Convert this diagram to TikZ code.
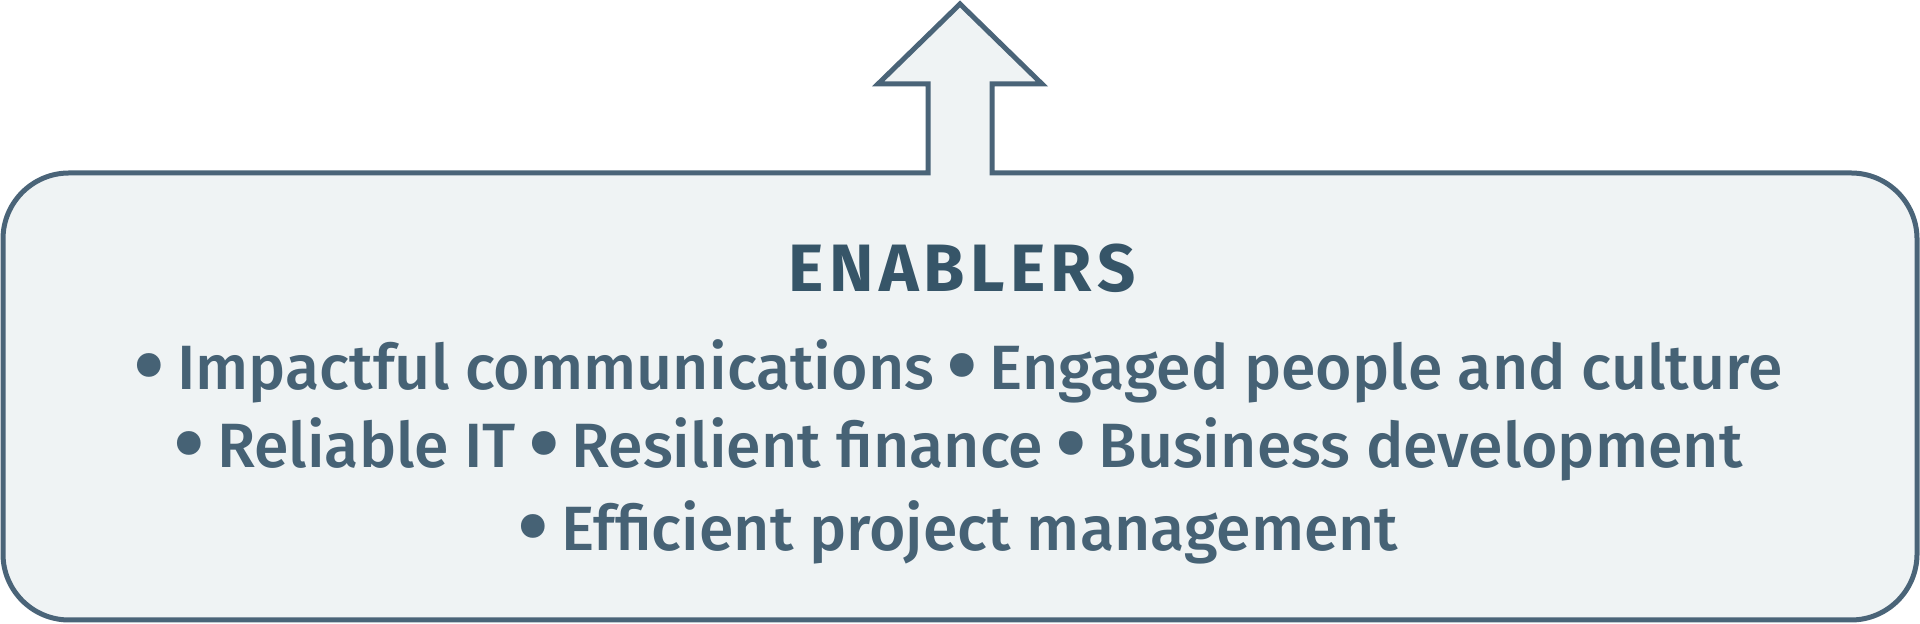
\documentclass[tikz,border=0pt]{standalone}
\usepackage{fontspec}
\setmainfont{Fira Sans}
\newfontfamily\bodyfont{Fira Sans Medium}
\newfontfamily\titlefont[LetterSpace=8]{Fira Sans Bold}
\definecolor{edgeblue}{HTML}{4A6478}
\definecolor{paleblue}{HTML}{EFF3F4}
\definecolor{titleblue}{HTML}{365568}
\definecolor{textblue}{HTML}{466275}
\newcommand\listdot{\kern-0.06em\raisebox{-0.12em}{\scalebox{1.5}{•}}\kern-0.06em}
\tikzset{
  listline/.style={anchor=base, text=textblue, font=\bodyfont\fontsize{31.3}{36}\selectfont, inner sep=0pt},
}

\begin{document}
\begin{tikzpicture}[x=0.5pt, y=0.5pt]
    % Canvas
    \useasboundingbox (0,0) rectangle (1920,624);
    % Box with arrow on top
    \draw[line width=2.5pt, edgeblue, fill=paleblue, line join=miter]
        (992,451) -- (1851,451) arc[start angle=90, end angle=0, radius=66]
        -- (1917,70) arc[start angle=0, end angle=-90, radius=66]
        -- (69,4) arc[start angle=-90, end angle=-180, radius=66]
        -- (3,385) arc[start angle=180, end angle=90, radius=66]
        -- (928,451) -- (928,540) -- (878,540) -- (960,620) -- (1042,540)
        -- (992,540) -- cycle;
    % Heading
    \node[anchor=base, text=titleblue, inner sep=0pt] (title) at (962,332)
        {\titlefont\fontsize{33.5}{36}\selectfont ENABLERS};
    % List of enablers
    \node[listline] (line1) at (960,234)
        {\listdot{} Impactful communications \listdot{} Engaged people and culture};
    \node[listline] (line2) at (960,156)
        {\listdot{} Reliable IT \listdot{} Resilient finance \listdot{} Business development};
    \node[listline] (line3) at (960,73)
        {\listdot{} Efficient project management};
\end{tikzpicture}
\end{document}
